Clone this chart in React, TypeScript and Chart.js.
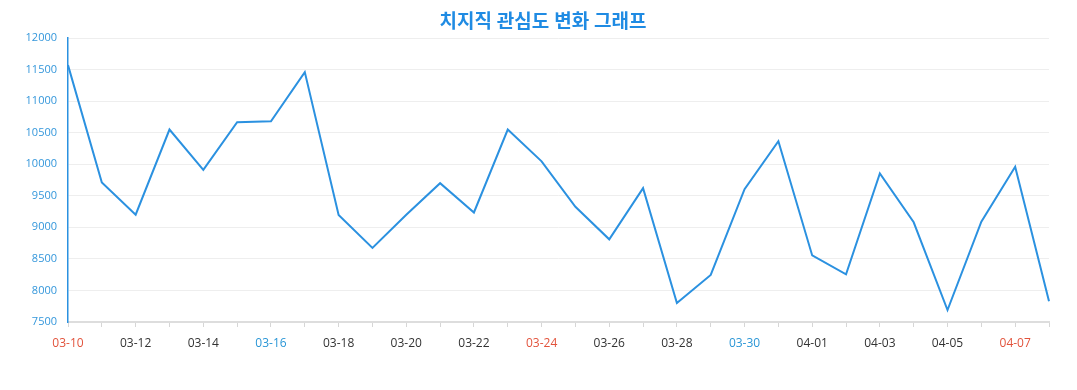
import React, { useEffect, useRef } from "react";
import { Chart, registerables } from "chart.js";

Chart.register(...registerables);

const TITLE = "치지직 관심도 변화 그래프";

const dates = [
  "03-10", "03-11", "03-12", "03-13", "03-14", "03-15", "03-16", "03-17", "03-18", "03-19",
  "03-20", "03-21", "03-22", "03-23", "03-24", "03-25", "03-26", "03-27", "03-28", "03-29",
  "03-30", "03-31", "04-01", "04-02", "04-03", "04-04", "04-05", "04-06", "04-07", "04-08",
];

const interest = [
  11570, 9710, 9200, 10550, 9910, 10665, 10680, 11460, 9195, 8675,
  9200, 9700, 9235, 10550, 10045, 9325, 8810, 9620, 7800, 8245,
  9605, 10365, 8555, 8255, 9855, 9080, 7690, 9090, 9960, 7830,
];

const sundays = ["03-10", "03-17", "03-24", "03-31", "04-07"];
const saturdays = ["03-16", "03-23", "03-30", "04-06"];

const yTicks = { min: 7500, max: 12000, step: 500 };

const FONT = "'Open Sans', 'Noto Sans CJK KR', 'Noto Sans', sans-serif";

export default function App() {
  const ref = useRef<HTMLCanvasElement | null>(null);

  useEffect(() => {
    document.body.style.margin = "0";
    const canvas = ref.current;
    if (!canvas) return;
    const labelColor = (d: string) =>
      sundays.includes(d) ? "#e2533c" : saturdays.includes(d) ? "#2a96d6" : "#333333";

    const chart = new Chart(canvas, {
      type: "line",
      data: {
        labels: dates,
        datasets: [
          {
            label: "관심도",
            data: interest,
            borderColor: "#2b91e0",
            backgroundColor: "#2b91e0",
            borderWidth: 2,
            pointRadius: 0,
            pointHoverRadius: 0,
            tension: 0,
            fill: false,
            yAxisID: "y",
          },
        ],
      },
      options: {
        responsive: false,
        animation: false,
        layout: { padding: { left: 18, right: 9, top: 0, bottom: 0 } },
        plugins: {
          legend: { display: false },
          tooltip: { enabled: false },
          title: {
            display: true,
            text: TITLE,
            color: "#1f8be3",
            font: { family: FONT, size: 19, weight: "bold", lineHeight: 1.2 },
            padding: { top: 11, bottom: 4.2 },
          },
        },
        scales: {
          x: {
            offset: false,
            border: { color: "#dddddd", width: 2 },
            grid: {
              display: true,
              drawOnChartArea: false,
              drawTicks: true,
              tickLength: 5,
              color: "#d6d6d6",
            },
            ticks: {
              autoSkip: false,
              maxRotation: 0,
              padding: 9,
              font: { family: FONT, size: 12 },
              color: (ctx: any) => labelColor(dates[ctx.index] ?? ""),
              callback: (_v: any, i: number) => (i % 2 === 0 ? dates[i] : ""),
            },
            afterFit: (s: any) => {
              s.height = 68;
            },
          },
          y: {
            position: "left",
            min: yTicks.min,
            max: yTicks.max,
            border: { color: "#2b91e0", width: 1.5 },
            grid: { color: "#eeeeee", drawTicks: false, lineWidth: 1 },
            ticks: {
              stepSize: yTicks.step,
              padding: 11,
              font: { family: FONT, size: 11 },
              color: "#3497db",
              callback: (v: any) => String(v),
            },
            afterFit: (s: any) => {
              s.width = 50;
            },
          },
          spacer: {
            type: "linear",
            position: "right",
            display: true,
            min: 0,
            max: 1,
            border: { display: false },
            grid: { display: false, drawOnChartArea: false },
            ticks: { display: false },
            afterFit: (s: any) => {
              s.width = 19;
            },
          },
        },
      },
    });
    return () => chart.destroy();
  }, []);

  return <canvas ref={ref} width={1077} height={390} style={{ display: "block" }} />;
}
